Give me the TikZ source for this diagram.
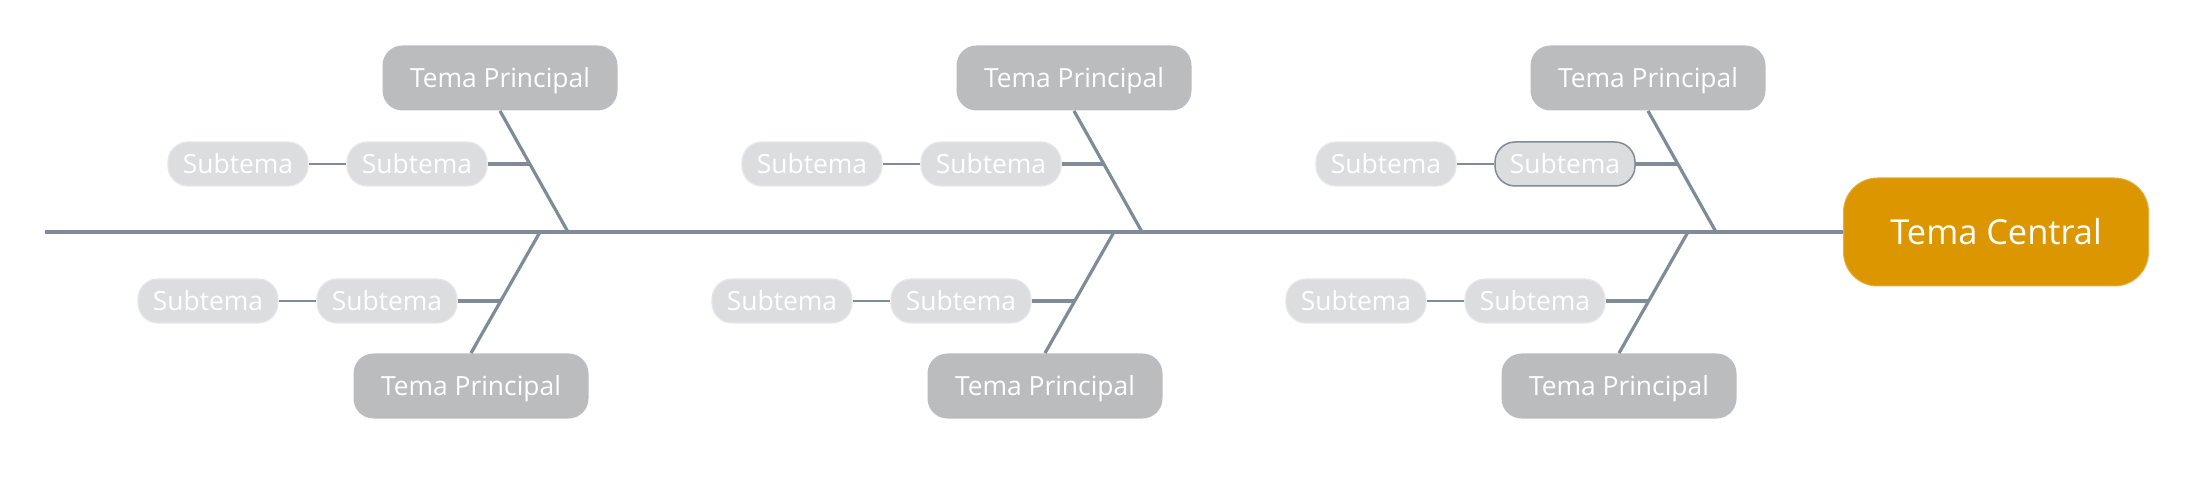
\documentclass[tikz,border=0pt]{standalone}
\usepackage{fontspec}
\setmainfont{Open Sans}
\definecolor{slate}{HTML}{7F8B99}
\definecolor{tpgray}{HTML}{BBBCBE}
\definecolor{stgray}{HTML}{DCDDDF}
\definecolor{stedge}{HTML}{E6E7E9}
\definecolor{tcorange}{HTML}{DB9600}
\begin{document}
\begin{tikzpicture}[x=0.5pt,y=-0.5pt,
  tc/.style={rectangle,rounded corners=17pt,fill=tcorange,draw=tcorange!75!white,line width=0.5pt,text=white,
    minimum width=152.5pt,minimum height=54pt,inner sep=0pt,text height=12.3pt,text depth=0pt,
    font=\fontsize{17.2}{20}\selectfont},
  tp/.style={rectangle,rounded corners=10pt,fill=tpgray,text=white,
    minimum width=117.5pt,minimum height=32.5pt,inner sep=0pt,text height=9.4pt,text depth=0pt,
    font=\fontsize{13.2}{16}\selectfont},
  st/.style={rectangle,rounded corners=10pt,fill=stgray,draw=stedge,line width=0.6pt,text=white,
    minimum width=70pt,minimum height=22pt,inner sep=0pt,text height=9.4pt,text depth=0pt,
    font=\fontsize{13.2}{16}\selectfont},
  spine/.style={draw=slate,line width=2pt},
  rib/.style={draw=slate,line width=1.6pt},
  twig/.style={draw=slate,line width=1.7pt},
  link/.style={draw=slate,line width=1pt}]
  \useasboundingbox (0,0) rectangle (2193,480);

  \node[tc] (tc) at (1996,232) {Tema Central};
  \coordinate (tail) at (45,232);

  % primeiro grupo
  \node[tp] (tp1t) at (500,78) {Tema Principal};
  \node[tp] (tp1b) at (471,386) {Tema Principal};
  \node[st] (st1ta) at (238,164) {Subtema};
  \node[st] (st1tb) at (417,164) {Subtema};
  \node[st] (st1ba) at (208,301) {Subtema};
  \node[st] (st1bb) at (387,301) {Subtema};
  \coordinate (j1t) at (568,232);
  \coordinate (j1b) at (540,232);
  \coordinate (k1t) at (530,164);
  \coordinate (k1b) at (501,301);

  % segundo grupo
  \node[tp] (tp2t) at (1074,78) {Tema Principal};
  \node[tp] (tp2b) at (1045,386) {Tema Principal};
  \node[st] (st2ta) at (812,164) {Subtema};
  \node[st] (st2tb) at (991,164) {Subtema};
  \node[st] (st2ba) at (782,301) {Subtema};
  \node[st] (st2bb) at (961,301) {Subtema};
  \coordinate (j2t) at (1142,232);
  \coordinate (j2b) at (1114,232);
  \coordinate (k2t) at (1104,164);
  \coordinate (k2b) at (1075,301);

  % terceiro grupo
  \node[tp] (tp3t) at (1648,78) {Tema Principal};
  \node[tp] (tp3b) at (1619,386) {Tema Principal};
  \node[st] (st3ta) at (1386,164) {Subtema};
  \node[st,draw=slate,line width=0.75pt] (st3tb) at (1565,164) {Subtema};
  \node[st] (st3ba) at (1356,301) {Subtema};
  \node[st] (st3bb) at (1535,301) {Subtema};
  \coordinate (j3t) at (1716,232);
  \coordinate (j3b) at (1688,232);
  \coordinate (k3t) at (1678,164);
  \coordinate (k3b) at (1649,301);

  % espinha e ramos
  \draw[spine] (tail) -- (tc);
  \draw[rib] (tp1t.south) -- (j1t);
  \draw[rib] (j1b) -- (tp1b.north);
  \draw[rib] (tp2t.south) -- (j2t);
  \draw[rib] (j2b) -- (tp2b.north);
  \draw[rib] (tp3t.south) -- (j3t);
  \draw[rib] (j3b) -- (tp3b.north);
  \draw[twig] (st1tb) -- (k1t);
  \draw[twig] (st1bb) -- (k1b);
  \draw[twig] (st2tb) -- (k2t);
  \draw[twig] (st2bb) -- (k2b);
  \draw[twig] (st3tb) -- (k3t);
  \draw[twig] (st3bb) -- (k3b);
  \draw[link] (st1ta) -- (st1tb);
  \draw[link] (st1ba) -- (st1bb);
  \draw[link] (st2ta) -- (st2tb);
  \draw[link] (st2ba) -- (st2bb);
  \draw[link] (st3ta) -- (st3tb);
  \draw[link] (st3ba) -- (st3bb);
\end{tikzpicture}
\end{document}
